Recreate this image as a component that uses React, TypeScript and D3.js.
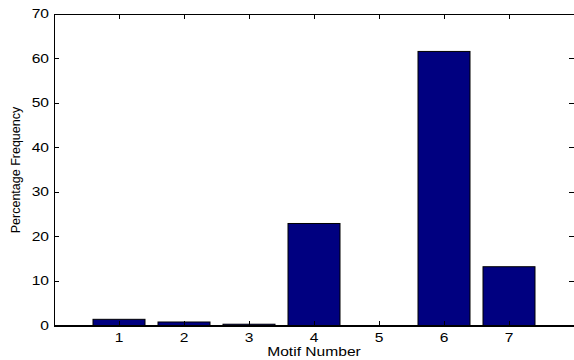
import React, { useEffect, useRef } from "react";
import * as d3 from "d3";

const motifs = [1, 2, 3, 4, 5, 6, 7];
const frequency = [1.5, 0.9, 0.4, 23.0, 0.05, 61.6, 13.3];
const yTicks = [0, 10, 20, 30, 40, 50, 60, 70];

const W = 574;
const H = 360;
const margin = { top: 14, right: 0, bottom: 34, left: 54 };
const font = "Arial, 'Liberation Sans', Helvetica, sans-serif";

const App: React.FC = () => {
  const svgRef = useRef<SVGSVGElement>(null);

  useEffect(() => {
    if (!svgRef.current) return;
    const svg = d3.select(svgRef.current);
    svg.selectAll("*").remove();

    const x = d3.scaleLinear().domain([0, 8]).range([margin.left, W - margin.right]);
    const y = d3.scaleLinear().domain([0, 70]).range([H - margin.bottom, margin.top]);
    const bw = x(0.4) - x(0);

    // bars
    svg
      .append("g")
      .selectAll("rect")
      .data(motifs)
      .join("rect")
      .attr("x", (d) => x(d) - bw)
      .attr("y", (d, i) => y(frequency[i]))
      .attr("width", bw * 2)
      .attr("height", (d, i) => y(0) - y(frequency[i]))
      .attr("fill", "#000080")
      .attr("stroke", "#000")
      .attr("stroke-width", 1);

    const x0 = x(0), x1 = x(8), yb = y(0), yt = y(70);
    const ax = svg.append("g").attr("stroke", "#000").attr("shape-rendering", "crispEdges");

    // box (right edge falls off the canvas)
    ax.append("line").attr("x1", x0).attr("x2", x1).attr("y1", yb).attr("y2", yb).attr("stroke-width", 1.5);
    ax.append("line").attr("x1", x0).attr("x2", x1).attr("y1", yt).attr("y2", yt);
    ax.append("line").attr("x1", x0).attr("x2", x0).attr("y1", yt).attr("y2", yb);

    // inward ticks
    yTicks.forEach((t) => {
      ax.append("line").attr("x1", x0).attr("x2", x0 + 5).attr("y1", y(t)).attr("y2", y(t));
      ax.append("line").attr("x1", x1 - 5).attr("x2", x1).attr("y1", y(t)).attr("y2", y(t));
    });
    motifs.forEach((m) => {
      ax.append("line").attr("x1", x(m)).attr("x2", x(m)).attr("y1", yb).attr("y2", yb - 5);
      ax.append("line").attr("x1", x(m)).attr("x2", x(m)).attr("y1", yt).attr("y2", yt + 5);
    });

    const labels = svg.append("g").attr("font-family", font).attr("font-size", 12).attr("fill", "#000");

    yTicks.forEach((t) => {
      labels
        .append("text")
        .attr("transform", `translate(${x0 - 5},${y(t) + 4}) scale(1.3,1)`)
        .attr("text-anchor", "end")
        .text(t);
    });
    motifs.forEach((m) => {
      labels
        .append("text")
        .attr("transform", `translate(${x(m)},${yb + 16}) scale(1.3,1)`)
        .attr("text-anchor", "middle")
        .text(m);
    });

    labels
      .append("text")
      .attr("transform", `translate(${(x0 + x1) / 2},${yb + 30}) scale(1.3,1)`)
      .attr("text-anchor", "middle")
      .text("Motif Number");

    labels
      .append("text")
      .attr("transform", `translate(20,${(yt + yb) / 2}) rotate(-90)`)
      .attr("text-anchor", "middle")
      .attr("font-size", 12.5)
      .text("Percentage Frequency");
  }, []);

  return (
    <svg
      ref={svgRef}
      width={W}
      height={H}
      style={{ position: "absolute", left: 0, top: 0, background: "#fff" }}
    />
  );
};

export default App;
